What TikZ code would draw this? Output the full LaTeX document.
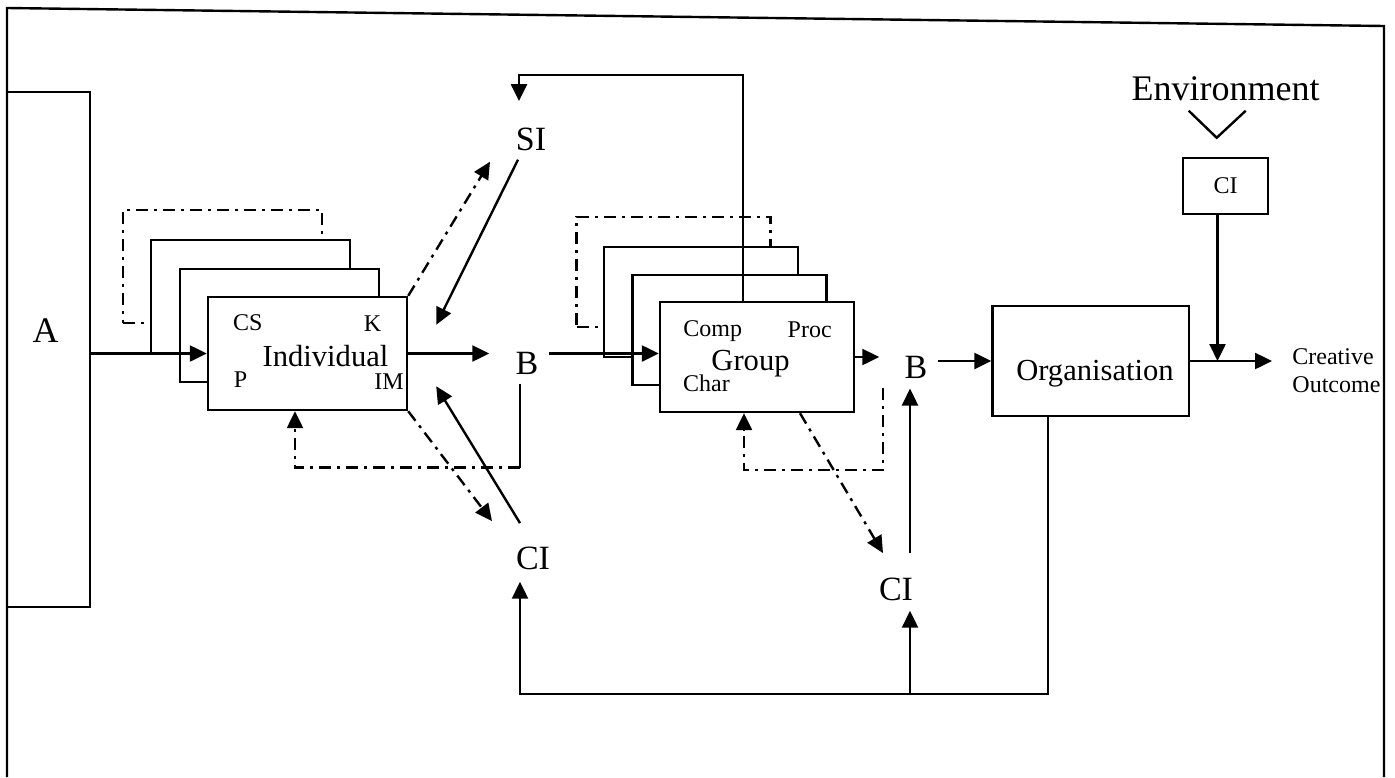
\documentclass[tikz,border=0pt]{standalone}
\usepackage{fontspec}
\setmainfont{Liberation Serif}
\usetikzlibrary{arrows.meta,calc}

\begin{document}
\begin{tikzpicture}[
  x=0.5pt, y=-0.5pt,
  every node/.style={inner sep=0pt},
  wire/.style={line width=1.2pt},
  box/.style={draw, wire, fill=white, minimum width=99.5pt,
    minimum height=56.5pt},
  gbox/.style={box, minimum width=97pt, minimum height=55pt},
  dd/.style={wire, dash pattern=on 6pt off 3pt on 1.5pt off 3pt},
  ghost/.style={box, dd, fill=none},
  gghost/.style={gbox, dd, fill=none},
  lbl/.style={anchor=base, font=\fontsize{17}{20}\selectfont},
  title/.style={anchor=base, font=\fontsize{15.3}{18}\selectfont},
  tag/.style={anchor=base, font=\fontsize{12}{14}\selectfont},
  arrow/.style={wire, -{Triangle[length=8.5pt, width=8pt]}},
  ddarrow/.style={dd, -{Triangle[length=8.5pt, width=8pt]}}
]
\useasboundingbox (0,0) rectangle (1395,777);

\draw[wire] (7,777) -- (7,8) -- (1384,26) -- (1384,777);

\node[draw, wire, minimum width=41.5pt, minimum height=257.5pt] (abox)
  at (48.5,349.5) {};
\node[lbl, font=\fontsize{18}{21}\selectfont] (a) at (45.5,342) {A};

\node[ghost] (ind3) at (222.5,266.5) {};
\node[box] (ind2) at (250.5,296.5) {};
\node[box] (ind1) at (279.5,325.5) {};
\node[box] (indiv) at (307.5,353.5) {};
\node[tag] (cs) at (247.7,330) {CS};
\node[tag] (k) at (372.5,331) {K};
\node[title] (indl) at (325.5,366) {Individual};
\node[tag] (p) at (240.5,387) {P};
\node[tag] (im) at (389,389) {IM};

\node[gghost] (grp3) at (673.5,272) {};
\node[gbox] (grp2) at (701,302) {};
\node[gbox] (grp1) at (729.5,330) {};
\node[gbox] (group) at (757,357) {};
\node[tag] (comp) at (712.7,336) {Comp};
\node[tag] (proc) at (809.7,337) {Proc};
\node[title] (grpl) at (750.5,370) {Group};
\node[tag] (char) at (706.5,391) {Char};

\node[lbl] (si) at (531,150) {SI};
\node[lbl] (b1) at (527,374) {B};
\node[lbl] (ci1) at (533,569) {CI};
\node[lbl] (b2) at (916,378) {B};
\node[lbl] (ci2) at (896,600) {CI};

\node[draw, wire, minimum width=98.25pt, minimum height=55pt] (org)
  at (1090.75,361) {};
\node[title] (orgl) at (1095,380) {Organisation};
\node[draw, wire, minimum width=42.5pt, minimum height=28pt,
  font=\fontsize{12}{14}\selectfont] (envci) at (1225.5,186) {CI};
\node[lbl, font=\fontsize{18}{21}\selectfont] (env) at (1225.7,100)
  {Environment};
\node[font=\fontsize{12}{14}\selectfont, align=left, anchor=west] (co)
  at (1292,371) {Creative\\Outcome};

\draw[wire] ($(env.south)+(-37,10)$) -- ($(env.south)+(-9,37)$)
  -- ($(env.south)+(20,10)$);

\draw[arrow] (abox.east |- indiv.west) -- (indiv.west);
\draw[arrow] (indiv.east) -- ($(indiv.east -| b1.west)+(-26,0)$);
\draw[arrow] ($(indiv.east -| b1.east)+(10,0)$) -- (indiv.east -| group.west);
\draw[ddarrow] (indiv.north east) -- ($(si.south)+(-41,11)$);
\draw[arrow] ($(si.south)+(-13,9)$) -- ($(indiv.north east)+(28,29)$);
\draw[arrow] ($(ci1.north)+(-13,-23)$) -- ($(indiv.south east)+(28,-25)$);
\draw[ddarrow] (indiv.south east) -- ($(ci1.north)+(-41,-25)$);
\draw[wire] ($(b1.south)+(-7,9)$) -- ($(b1.south)+(-7,93)$);
\draw[ddarrow] ($(b1.south)+(-7,93)$) -| ($(indiv.south)+(-12.5,0)$);

\draw[arrow] ($(group.north)+(-14,0)$) |- ($(si.north)+(-12,-52)$)
  -- ($(si.north)+(-12,-26)$);
\draw[arrow] (group.east) -- ($(group.east -| b2.west)+(-25,0)$);
\draw[ddarrow] ($(group.south east)+(28,-25)$) |- ($(group.south)+(-13,57)$)
  -- ($(group.south)+(-13,0)$);
\draw[ddarrow] ($(group.south)+(43,0)$) -- ($(ci2.north)+(-13,-24)$);
\draw[arrow] ($(ci2.north)+(14,-24)$) -- ($(ci2.north |- b2.south)+(14,10)$);
\draw[arrow] ($(b2.east |- org.west)+(10,0)$) -- (org.west);

\draw[arrow] ($(org.south)+(-43,0)$) |- ($(ci1.south)+(-13,124)$)
  -- ($(ci1.south)+(-13,12)$);
\draw[arrow] ($(ci2.south)+(14,93)$) -- ($(ci2.south)+(14,10)$);
\draw[arrow] (org.east) -- ($(org.east -| co.west)+(-20,0)$);
\draw[arrow] ($(envci.south)+(-8,0)$) -- ($(envci.south |- org.east)+(-8,0)$);

\end{tikzpicture}
\end{document}
